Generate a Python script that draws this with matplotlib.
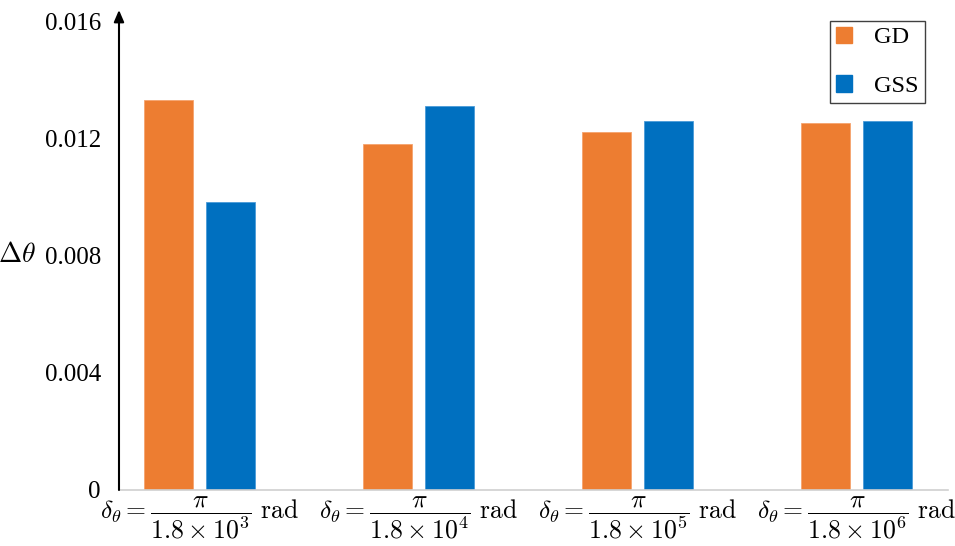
import matplotlib.pyplot as plt
import numpy as np
from matplotlib.patches import Rectangle

# values
categories = [r'$\delta_\theta = \dfrac{\pi}{1.8 \times 10^3}\ \mathrm{rad}$',
              r'$\delta_\theta = \dfrac{\pi}{1.8 \times 10^4}\ \mathrm{rad}$',
              r'$\delta_\theta = \dfrac{\pi}{1.8 \times 10^5}\ \mathrm{rad}$',
              r'$\delta_\theta = \dfrac{\pi}{1.8 \times 10^6}\ \mathrm{rad}$']
gd = [0.01333, 0.01183, 0.01224, 0.01253]
gss = [0.00985, 0.01313, 0.01262, 0.01262]
yticks = [0, 0.004, 0.008, 0.012, 0.016]
ytick_labels = ['0', '0.004', '0.008', '0.012', '0.016']

plt.rcParams['font.family'] = ['Liberation Serif', 'DejaVu Serif']
plt.rcParams['mathtext.fontset'] = 'cm'

c_gd = '#ED7D31'
c_gss = '#0070C0'

fig = plt.figure(figsize=(9.55, 5.46), dpi=100)
ax = fig.add_axes([0.1246, 0.1026, 0.8681, 0.8791])

x = np.arange(len(categories))
w = 0.224
off = 0.142
ax.bar(x - off, gd, w, color=c_gd, edgecolor='#F5A36E', linewidth=0.6)
ax.bar(x + off, gss, w, color=c_gss, edgecolor='#4A9BD8', linewidth=0.6)

ax.set_xlim(-0.368, 3.42)
ax.set_ylim(0, 0.0164)
ax.set_yticks(yticks)
ax.set_yticklabels(ytick_labels, fontsize=18)
ax.set_xticks(x)
ax.set_xticklabels(categories, fontsize=18.5)
ax.tick_params(axis='both', length=0)
ax.tick_params(axis='y', pad=13)
ax.tick_params(axis='x', pad=3)

for s in ['top', 'right', 'left']:
    ax.spines[s].set_visible(False)
ax.spines['bottom'].set_color('#D0D0D0')
ax.spines['bottom'].set_linewidth(1.2)

# y axis drawn as an arrow
ax.annotate('', xy=(0, 1.0), xytext=(0, 0), xycoords='axes fraction',
            arrowprops=dict(arrowstyle='-|>,head_length=0.7,head_width=0.3',
                            color='black', lw=1.5, shrinkA=0, shrinkB=0))

fig.text(17 / 955, 1 - 256 / 546, r'$\Delta\theta$', fontsize=20,
         ha='center', va='center')

handles = [Rectangle((0, 0), 1, 1, color=c_gd),
           Rectangle((0, 0), 1, 1, color=c_gss)]
leg = ax.legend(handles, ['GD', 'GSS'], loc='upper right',
                bbox_to_anchor=(0.972, 0.978), borderaxespad=0, fontsize=17.5,
                fancybox=False, edgecolor='#404040', framealpha=1,
                handlelength=0.68, handleheight=0.68, labelspacing=1.1,
                handletextpad=0.9, borderpad=0.25, alignment='right')
leg.get_frame().set_linewidth(1.0)
for t in leg.get_texts():
    t.set_ha('right')

fig.savefig('out.png', dpi=100)
